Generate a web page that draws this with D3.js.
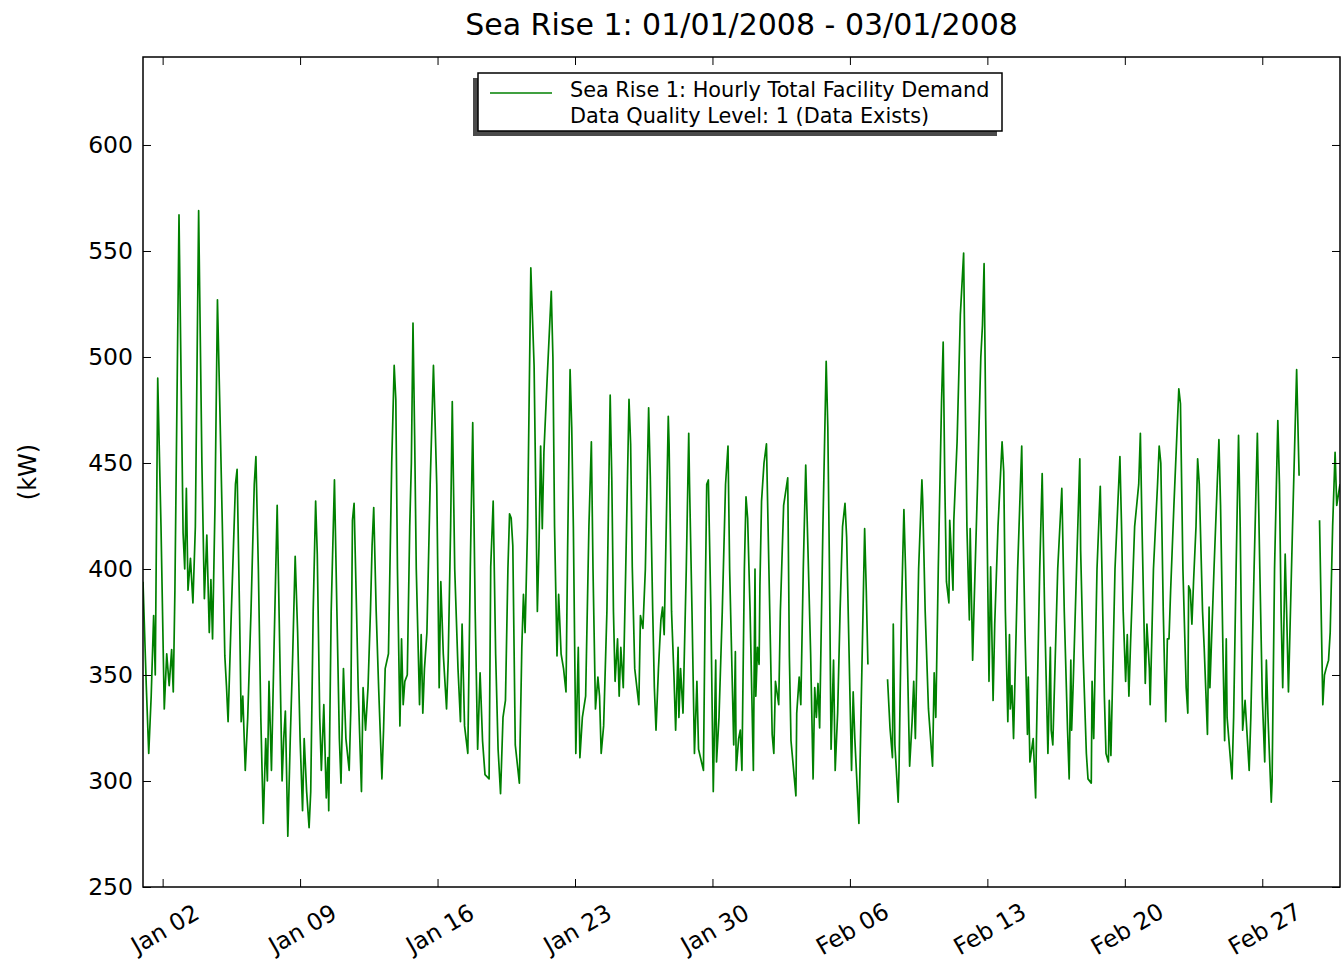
<!DOCTYPE html>
<html>
<head>
<meta charset="utf-8">
<script src="https://cdn.jsdelivr.net/npm/d3@7.9.0/dist/d3.min.js"></script>
<style>
  body { margin: 0; background: #fff; }
  svg { font-family: "DejaVu Sans", sans-serif; }
</style>
</head>
<body>
<svg id="chart" width="1343" height="972"></svg>
<script>
// [hours since 2008-01-01 00:00, kW]; null = missing reading
const week1 = [[0,394],[4,345],[7,313],[10,340],[13,378],[15,350],[18,490],[22,420],[26,334],[29,360],[32,345],[35,362],[37,342],[39,390],[44,567],[49,417],[51,400],[53,438],[55,390],[58,405],[61,384],[64,420],[68,569],[72,450],[75,386],[78,416],[81,370],[83,395],[85,367],[88,430],[91,527],[94,475],[97,420],[100,359],[102,345],[104,328],[108,380],[113,440],[115,447],[118,380],[120,328],[122,340],[125,305],[128,330],[132,380],[136,440],[138,453],[141,400],[144,330],[147,280],[150,320],[152,300],[154,347],[157,305],[160,360],[164,430]];
const week2 = [[170,300],[172,320],[174,333],[177,274],[180,320],[183,360],[186,406],[189,370],[192,320],[195,286],[197,320],[200,295],[203,278],[205,295],[208,380],[211,432],[213,407],[216,330],[218,305],[221,336],[224,292],[226,311],[227,286],[230,380],[234,442],[237,380],[240,320],[242,299],[245,353],[248,320],[252,305],[254,334],[256,423],[258,431],[261,380],[263,344],[267,295],[269,344],[272,324],[275,344],[278,380],[280,411],[282,429],[285,380],[288,344],[292,301],[294,324],[296,353],[300,360],[304,450],[307,496],[309,480],[311,400],[314,326],[316,367],[318,336],[320,347],[323,350],[326,420],[328,450],[330,516],[332,463],[334,400]];
const week3 = [[338,336],[340,369],[342,332],[344,353],[347,370],[351,440],[355,496],[357,469],[359,440],[362,344],[364,394],[367,360],[371,334],[373,357],[376,420],[378,479],[381,400],[385,353],[388,328],[390,374],[393,326],[397,313],[400,400],[403,469],[406,380],[409,315],[412,351],[415,319],[418,303],[423,301],[425,401],[428,432],[431,360],[434,315],[437,294],[440,330],[443,338],[446,400],[448,426],[450,424],[452,411],[455,317],[460,299],[463,363],[465,388],[467,370],[470,420],[474,542],[478,496],[482,380],[484,411],[486,458],[488,419],[490,455],[494,490],[499,531],[501,500],[503,420]];
const week4 = [[506,359],[508,388],[511,360],[514,353],[517,342],[519,410],[522,494],[524,467],[526,420],[529,313],[532,363],[534,311],[537,330],[541,340],[545,420],[548,460],[550,400],[553,334],[556,349],[558,340],[560,313],[563,326],[567,380],[571,482],[573,442],[575,380],[577,347],[580,367],[582,340],[584,363],[587,344],[590,400],[594,480],[596,459],[598,401],[601,353],[606,336],[608,378],[611,372],[614,400],[618,476],[620,444],[623,380],[625,344],[627,324],[630,353],[633,376],[635,382],[637,369],[640,430],[642,472],[643,459],[646,380],[649,349],[651,324],[654,363],[655,330],[657,353],[660,332],[664,400],[667,464],[668,440]];
const week5 = [[671,380],[674,313],[677,347],[679,315],[685,305],[687,380],[689,440],[691,442],[694,382],[697,295],[700,357],[701,309],[704,330],[708,380],[712,440],[715,458],[717,400],[722,317],[724,361],[725,305],[728,320],[730,324],[732,305],[735,400],[737,434],[739,424],[742,380],[746,305],[748,400],[749,340],[751,363],[753,355],[754,392],[756,432],[759,450],[762,459],[765,400],[769,322],[771,313],[773,347],[777,336],[779,380],[783,430],[788,443],[790,359],[792,319],[798,293],[799,332],[802,349],[804,336],[807,400],[810,449],[813,405],[816,360],[819,301],[821,344],[823,330],[825,346],[827,325],[831,420],[835,498],[837,467],[839,400]];
const week6 = [[841,315],[844,357],[846,305],[849,332],[852,380],[855,420],[858,431],[860,415],[863,360],[866,305],[868,342],[870,320],[875,280],[878,340],[882,419],[884,390],[886,355],[887,null],[910,348],[913,325],[916,311],[917,374],[919,317],[923,290],[924,305],[927,380],[930,428],[932,400],[937,307],[940,328],[942,347],[944,320],[948,400],[952,442],[953,432],[956,380],[960,334],[965,307],[967,351],[969,330],[972,400],[976,479],[978,507],[980,440],[982,394],[985,384],[986,423],[988,407],[990,390],[991,423],[995,460],[999,520],[1003,549],[1005,480],[1007,420]];
const week7 = [[1010,376],[1011,419],[1014,357],[1016,386],[1020,440],[1024,500],[1026,515],[1028,544],[1030,470],[1034,347],[1036,401],[1039,338],[1041,374],[1045,420],[1050,460],[1052,446],[1054,380],[1057,328],[1059,369],[1060,334],[1062,345],[1064,320],[1069,400],[1074,458],[1075,432],[1078,370],[1081,322],[1082,349],[1084,309],[1088,320],[1091,292],[1092,320],[1096,400],[1099,445],[1102,380],[1106,313],[1109,363],[1110,324],[1112,317],[1118,400],[1123,438],[1126,380],[1130,324],[1132,301],[1134,357],[1135,324],[1137,347],[1141,400],[1145,452],[1146,409],[1149,360],[1153,313],[1155,301],[1159,299],[1160,347],[1162,320],[1166,400],[1170,439],[1172,400],[1175,340]];
const week8 = [[1177,313],[1180,309],[1181,338],[1183,312],[1188,400],[1194,453],[1196,420],[1198,380],[1201,347],[1203,369],[1205,340],[1207,365],[1212,420],[1217,440],[1219,464],[1221,420],[1225,346],[1227,374],[1230,353],[1231,336],[1235,400],[1240,440],[1242,458],[1244,450],[1247,380],[1250,328],[1252,367],[1254,367],[1256,390],[1260,430],[1266,485],[1268,478],[1271,400],[1275,344],[1277,332],[1278,392],[1280,390],[1282,374],[1284,394],[1287,420],[1289,452],[1291,440],[1295,380],[1297,363],[1301,322],[1303,382],[1304,344],[1309,400],[1315,461],[1317,430],[1320,360],[1322,319],[1324,367],[1325,330],[1331,301],[1333,330],[1336,400],[1339,463],[1341,420]];
const week9 = [[1344,324],[1347,338],[1352,305],[1354,330],[1358,400],[1362,464],[1365,400],[1368,340],[1371,309],[1373,357],[1375,330],[1379,290],[1380,300],[1383,400],[1387,470],[1389,440],[1391,380],[1393,344],[1396,407],[1398,376],[1400,342],[1405,420],[1410,494],[1413,444],[1414,null],[1438,423],[1442,336],[1444,350],[1446,353],[1449,357],[1451,370],[1454,420],[1457,455],[1459,430],[1463,440]];

const yTicks = [250, 300, 350, 400, 450, 500, 550, 600];
const xTickDays = ["2008-01-02", "2008-01-09", "2008-01-16", "2008-01-23", "2008-01-30", "2008-02-06", "2008-02-13", "2008-02-20", "2008-02-27"];
const chartTitle = "Sea Rise 1: 01/01/2008 - 03/01/2008";
const legendLabel = ["Sea Rise 1: Hourly Total Facility Demand", "Data Quality Level: 1 (Data Exists)"];
const yLabel = "(kW)";

const start = new Date(2008, 0, 1);
const parseDay = d3.timeParse("%Y-%m-%d");
const series = [week1, week2, week3, week4, week5, week6, week7, week8, week9]
  .flat()
  .map(([h, kw]) => ({ date: d3.timeHour.offset(start, h), kw }));

const plot = { left: 143, right: 1340, top: 57, bottom: 887 };

const svg = d3.select("#chart");

const x = d3.scaleTime()
  .domain([start, d3.timeHour.offset(start, 1463)])
  .range([plot.left, plot.right]);

const y = d3.scaleLinear()
  .domain([250, 641.5])
  .range([plot.bottom, plot.top]);

svg.append("defs").append("clipPath").attr("id", "plot-clip")
  .append("rect")
  .attr("x", plot.left).attr("y", plot.top)
  .attr("width", plot.right - plot.left).attr("height", plot.bottom - plot.top);

const line = d3.line()
  .defined((d) => d.kw != null)
  .x((d) => x(d.date))
  .y((d) => y(d.kw));

svg.append("path")
  .datum(series)
  .attr("clip-path", "url(#plot-clip)")
  .attr("fill", "none")
  .attr("stroke", "#008000")
  .attr("stroke-width", 1.7)
  .attr("stroke-linejoin", "round")
  .attr("d", line);

// axes, ticks pointing inward on all four sides
const xTicks = xTickDays.map(parseDay);

const bottom = svg.append("g")
  .attr("transform", `translate(0, ${plot.bottom})`)
  .call(d3.axisBottom(x).tickValues(xTicks).tickSizeInner(-8).tickSizeOuter(0).tickFormat(d3.timeFormat("%b %d")));
bottom.selectAll("text")
  .attr("y", null)
  .attr("dy", null)
  .attr("text-anchor", "middle")
  .attr("dominant-baseline", "central")
  .attr("transform", "translate(2, 42) rotate(-30)");

svg.append("g")
  .attr("transform", `translate(0, ${plot.top})`)
  .call(d3.axisTop(x).tickValues(xTicks).tickSizeInner(-8).tickSizeOuter(0).tickFormat(""));

svg.append("g")
  .attr("transform", `translate(${plot.left}, 0)`)
  .call(d3.axisLeft(y).tickValues(yTicks).tickSizeInner(-8).tickSizeOuter(0).tickPadding(10));

svg.append("g")
  .attr("transform", `translate(${plot.right}, 0)`)
  .call(d3.axisRight(y).tickValues(yTicks).tickSizeInner(-8).tickSizeOuter(0).tickFormat(""));

svg.selectAll(".domain").remove();
svg.selectAll(".tick line").attr("stroke", "#000").attr("stroke-width", 1);
svg.selectAll(".tick text")
  .attr("fill", "#000")
  .style("font-size", "23.5px")
  .style("font-family", "DejaVu Sans, sans-serif");

svg.append("rect")
  .attr("x", plot.left).attr("y", plot.top)
  .attr("width", plot.right - plot.left).attr("height", plot.bottom - plot.top)
  .attr("fill", "none")
  .attr("stroke", "#000")
  .attr("stroke-width", 1.5);

svg.append("text")
  .attr("x", (plot.left + plot.right) / 2)
  .attr("y", 35)
  .attr("text-anchor", "middle")
  .style("font-size", "30px")
  .text(chartTitle);

svg.append("text")
  .attr("transform", `translate(28, ${(plot.top + plot.bottom) / 2}) rotate(-90)`)
  .attr("text-anchor", "middle")
  .attr("dominant-baseline", "central")
  .style("font-size", "24px")
  .text(yLabel);

// legend with drop shadow
const legend = { x: 478, y: 73, w: 524, h: 58 };
svg.append("rect")
  .attr("x", legend.x - 5).attr("y", legend.y + 5)
  .attr("width", legend.w).attr("height", legend.h)
  .attr("fill", "#4a4a4a");
svg.append("rect")
  .attr("x", legend.x).attr("y", legend.y)
  .attr("width", legend.w).attr("height", legend.h)
  .attr("fill", "#fff")
  .attr("stroke", "#000")
  .attr("stroke-width", 1.5);
svg.append("line")
  .attr("x1", 490).attr("x2", 552)
  .attr("y1", 93).attr("y2", 93)
  .attr("stroke", "#008000")
  .attr("stroke-width", 1.7);
svg.append("g")
  .selectAll("text")
  .data(legendLabel)
  .join("text")
  .attr("x", 570)
  .attr("y", (d, i) => 97 + i * 26)
  .style("font-size", "20.8px")
  .text((d) => d);
</script>
</body>
</html>
